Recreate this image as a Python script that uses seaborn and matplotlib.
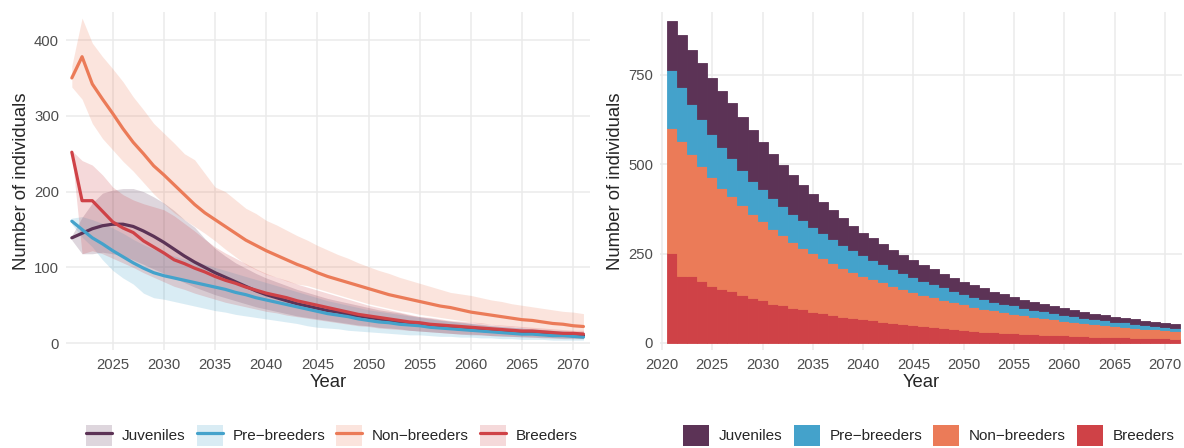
import matplotlib
matplotlib.use("Agg")
import matplotlib.pyplot as plt
import numpy as np
import pandas as pd
import seaborn as sns
from matplotlib.lines import Line2D
from matplotlib.patches import Patch

# Years of the projection
years = np.arange(2021, 2072)

stages = ["Juveniles", "Pre\u2212breeders", "Non\u2212breeders", "Breeders"]
colors = ["#5C3356", "#44A2CB", "#EB7B58", "#CF4247"]

# Mean number of individuals per stage
juv_mean = [139, 145, 151, 155, 157, 157, 154, 148, 141, 133,
            124, 115, 107, 100, 93, 87, 81, 75, 69, 64,
            60, 56, 52, 49, 46, 43, 41, 38, 36, 34,
            32, 30, 28, 26, 25, 23, 22, 20, 19, 18,
            17, 16, 15, 14, 14, 13, 12, 11, 11, 10, 10]
juv_low = [136, 118, 118, 120, 118, 115, 110, 104, 98, 92,
           86, 80, 74, 69, 64, 60, 56, 52, 48, 45,
           42, 39, 36, 34, 32, 30, 28, 26, 24, 23,
           21, 20, 19, 17, 16, 15, 14, 13, 12, 11,
           11, 10, 9, 9, 8, 8, 7, 7, 6, 6, 6]
juv_high = [142, 166, 185, 198, 202, 204, 204, 200, 193, 185,
            175, 163, 153, 138, 125, 115, 106, 99, 92, 86,
            81, 76, 71, 67, 63, 59, 56, 53, 50, 47,
            44, 42, 40, 37, 35, 33, 31, 29, 28, 26,
            25, 23, 22, 21, 20, 19, 18, 17, 16, 15, 15]

pre_mean = [161, 150, 139, 131, 122, 114, 106, 99, 93, 89,
            86, 83, 80, 77, 74, 71, 67, 64, 60, 57,
            54, 51, 48, 45, 42, 39, 37, 35, 32, 30,
            28, 27, 25, 24, 23, 21, 20, 19, 18, 17,
            16, 15, 14, 13, 12, 12, 11, 10, 10, 9, 8]
pre_low = [157, 140, 127, 110, 96, 86, 78, 66, 60, 58,
           55, 52, 49, 46, 43, 41, 38, 36, 34, 32,
           30, 28, 26, 23, 21, 20, 19, 17, 16, 15,
           14, 13, 12, 11, 11, 10, 9, 9, 8, 8,
           7, 7, 6, 6, 5, 5, 5, 4, 4, 4, 4]
pre_high = [165, 167, 163, 158, 152, 145, 137, 130, 124, 119,
            115, 111, 108, 104, 100, 96, 92, 88, 84, 80,
            76, 72, 68, 64, 60, 56, 53, 50, 47, 44,
            42, 40, 38, 36, 34, 32, 30, 29, 27, 26,
            24, 23, 22, 21, 20, 19, 18, 17, 16, 15, 14]

non_mean = [350, 378, 342, 322, 303, 283, 265, 250, 234, 222,
            209, 196, 183, 172, 163, 154, 145, 136, 129, 122,
            116, 110, 104, 99, 93, 88, 84, 80, 76, 72,
            68, 64, 61, 58, 55, 52, 49, 47, 44, 41,
            39, 37, 35, 33, 31, 30, 28, 26, 25, 23, 22]
non_low = [338, 322, 290, 270, 255, 240, 227, 212, 197, 184,
           172, 163, 154, 145, 135, 124, 114, 104, 97, 91,
           87, 82, 78, 76, 72, 68, 64, 60, 56, 52,
           49, 46, 43, 41, 38, 36, 34, 32, 30, 28,
           26, 25, 23, 22, 21, 19, 18, 17, 16, 15, 14]
non_high = [366, 429, 396, 378, 362, 345, 325, 308, 290, 277,
            264, 250, 242, 224, 206, 200, 189, 178, 171, 162,
            156, 149, 142, 136, 129, 123, 117, 112, 106, 101,
            96, 92, 87, 83, 79, 75, 71, 67, 65, 63,
            60, 57, 55, 52, 50, 48, 46, 44, 42, 41, 39]

bre_mean = [252, 188, 188, 174, 160, 152, 146, 135, 127, 119,
            110, 105, 99, 94, 88, 83, 79, 74, 70, 66,
            63, 60, 56, 53, 50, 47, 44, 41, 38, 36,
            34, 32, 30, 28, 27, 25, 24, 23, 22, 21,
            20, 19, 18, 17, 16, 16, 15, 14, 13, 13, 12]
bre_low = [250, 118, 122, 118, 112, 106, 100, 93, 87, 81,
           75, 71, 66, 62, 58, 54, 51, 48, 45, 42,
           40, 37, 35, 33, 31, 29, 27, 25, 23, 22,
           20, 19, 18, 17, 16, 15, 14, 13, 12, 12,
           11, 10, 10, 9, 9, 8, 8, 7, 7, 7, 6]
bre_high = [254, 241, 235, 222, 206, 196, 189, 184, 180, 176,
            168, 158, 148, 137, 127, 119, 112, 105, 98, 92,
            87, 83, 78, 74, 70, 66, 62, 58, 54, 50,
            47, 44, 41, 38, 35, 34, 32, 30, 29, 28,
            27, 25, 24, 23, 22, 21, 20, 19, 18, 17, 17]

means = [juv_mean, pre_mean, non_mean, bre_mean]
lows = [juv_low, pre_low, non_low, bre_low]
highs = [juv_high, pre_high, non_high, bre_high]

# Long table for seaborn
frames = []
for stage, m, lo, hi in zip(stages, means, lows, highs):
    frames.append(pd.DataFrame({"year": years, "stage": stage,
                                "n": m, "low": lo, "high": hi}))
df = pd.concat(frames, ignore_index=True)

sns.set_theme(style="whitegrid")
plt.rcParams["font.family"] = ["Liberation Sans", "DejaVu Sans"]

palette = dict(zip(stages, colors))

fig = plt.figure(figsize=(11.84, 4.48), dpi=100)
ax1 = fig.add_axes([66 / 1184, 1 - 350 / 448, (590 - 66) / 1184, 338 / 448])
ax2 = fig.add_axes([660 / 1184, 1 - 350 / 448, (1182 - 660) / 1184, 338 / 448])

# Left: ribbons + mean lines
for stage in stages:
    sub = df[df["stage"] == stage]
    ax1.fill_between(sub["year"], sub["low"], sub["high"],
                     color=palette[stage], alpha=0.2, linewidth=0)
sns.lineplot(data=df, x="year", y="n", hue="stage", hue_order=stages,
             palette=palette, linewidth=2.3, legend=False, ax=ax1)
ax1.set_xlim(2020.43, 2071.64)
ax1.set_ylim(-9, 437)
ax1.set_xticks(range(2025, 2071, 5))
ax1.set_yticks([0, 100, 200, 300, 400])

# Right: stacked bars
sns.histplot(data=df, x="year", weights="n", hue="stage", hue_order=stages,
             palette=palette, multiple="stack", discrete=True, shrink=1,
             alpha=1, linewidth=0, legend=False, ax=ax2)
# close the hairline gaps between neighbouring bars
for p in ax2.patches:
    p.set_edgecolor(p.get_facecolor())
    p.set_linewidth(0.6)
ax2.set_xlim(2019.8, 2071.7)
ax2.set_ylim(-19.6, 926)
ax2.set_xticks(range(2020, 2071, 5))
ax2.set_yticks([0, 250, 500, 750])

for ax in (ax1, ax2):
    ax.set_facecolor("white")
    ax.grid(True, color="#EBEBEB", linewidth=1.1)
    ax.set_axisbelow(True)
    for s in ax.spines.values():
        s.set_visible(False)
    ax.tick_params(axis="both", length=0, labelsize=10.7, labelcolor="#4D4D4D")
    ax.tick_params(axis="y", pad=5)
    ax.tick_params(axis="x", pad=6)
    ax.set_xlabel("Year", fontsize=13.3, labelpad=1.5)
    ax.set_ylabel("Number of individuals", fontsize=13.3, labelpad=3)

# Legends
line_handles = [(Patch(facecolor=c, alpha=0.2, edgecolor="none"),
                 Line2D([], [], color=c, linewidth=2.3)) for c in colors]
bar_handles = [Patch(facecolor=c, edgecolor="none") for c in colors]
leg_kw = dict(ncol=4, frameon=False, fontsize=11, handlelength=1.7,
              handleheight=1.64, handletextpad=0.65, columnspacing=0.72,
              loc="center", borderaxespad=0)
fig.legend(line_handles, stages, bbox_to_anchor=(332 / 1184, 1 - 435.5 / 448), **leg_kw)
fig.legend(bar_handles, stages, bbox_to_anchor=(929 / 1184, 1 - 435.5 / 448), **leg_kw)

fig.savefig("out.png", dpi=100, facecolor="white")
